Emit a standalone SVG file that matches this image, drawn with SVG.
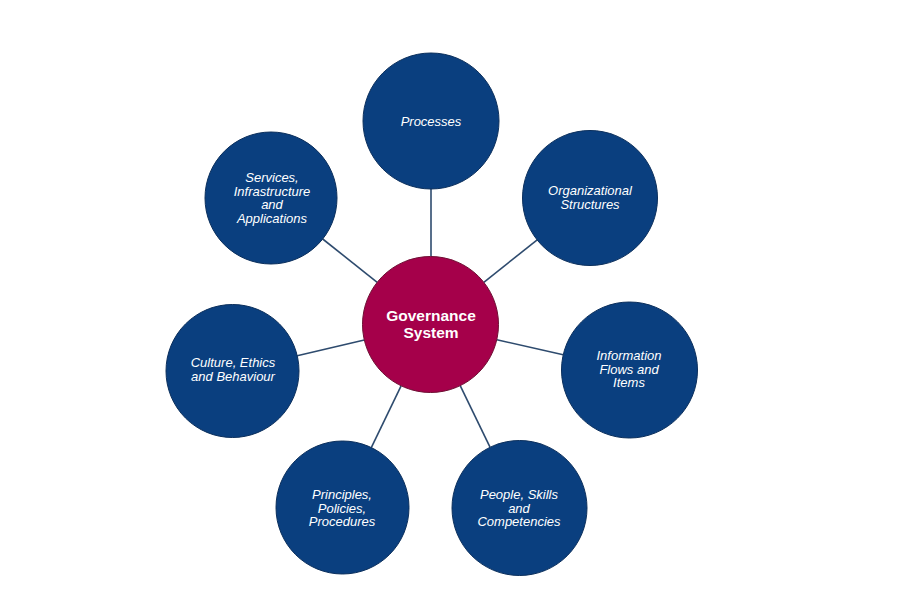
<svg xmlns="http://www.w3.org/2000/svg" width="901" height="616" viewBox="0 0 901 616">
<style>
.bg{fill:#ffffff}
.outer{fill:#0a3f7f;stroke:#0b2f5c;stroke-width:1}
.core{fill:#a5004a;stroke:#6e0f33;stroke-width:1}
.conn line{stroke:#2e4b6e;stroke-width:1.6}
.t{font-family:"Liberation Sans",Arial,sans-serif;font-style:italic;font-size:13px;fill:#ffffff;text-anchor:middle}
.tc{font-family:"Liberation Sans",Arial,sans-serif;font-weight:bold;font-size:15.5px;fill:#ffffff;text-anchor:middle}
</style>
<rect class="bg" x="0" y="0" width="901" height="616"/>
<g id="connectors" class="conn">
<line x1="431" y1="189" x2="431" y2="256.5"/>
<line x1="377.2" y1="282.3" x2="322.7" y2="239"/>
<line x1="483.8" y1="282.3" x2="537.5" y2="239.6"/>
<line x1="364.3" y1="340" x2="297.2" y2="355.8"/>
<line x1="496.8" y1="339.7" x2="563.2" y2="354.8"/>
<line x1="401.1" y1="385.8" x2="371.3" y2="447.6"/>
<line x1="460.2" y1="385.7" x2="490" y2="447.2"/>
</g>
<g id="processes">
<circle class="outer" cx="431" cy="121" r="68"/>
<text class="t" x="431" y="126">Processes</text>
</g>
<g id="services">
<circle class="outer" cx="271" cy="198" r="66"/>
<text class="t" x="272" y="182">Services,</text>
<text class="t" x="272" y="195.5">Infrastructure</text>
<text class="t" x="272" y="209">and</text>
<text class="t" x="272" y="222.5">Applications</text>
</g>
<g id="organizational">
<circle class="outer" cx="590" cy="198" r="67.5"/>
<text class="t" x="590" y="195">Organizational</text>
<text class="t" x="590" y="208.5">Structures</text>
</g>
<g id="governance">
<circle class="core" cx="430.5" cy="324.5" r="68"/>
<text class="tc" x="431" y="321">Governance</text>
<text class="tc" x="431" y="338">System</text>
</g>
<g id="culture">
<circle class="outer" cx="232.5" cy="371" r="66.5"/>
<text class="t" x="233" y="367">Culture, Ethics</text>
<text class="t" x="233" y="380.5">and Behaviour</text>
</g>
<g id="information">
<circle class="outer" cx="629.5" cy="370" r="68"/>
<text class="t" x="629" y="360">Information</text>
<text class="t" x="629" y="373.5">Flows and</text>
<text class="t" x="629" y="387">Items</text>
</g>
<g id="principles">
<circle class="outer" cx="342.5" cy="507.5" r="66.5"/>
<text class="t" x="342" y="499">Principles,</text>
<text class="t" x="342" y="512.5">Policies,</text>
<text class="t" x="342" y="526">Procedures</text>
</g>
<g id="people">
<circle class="outer" cx="519.5" cy="508" r="67.5"/>
<text class="t" x="519" y="499">People, Skills</text>
<text class="t" x="519" y="512.5">and</text>
<text class="t" x="519" y="526">Competencies</text>
</g>
</svg>
